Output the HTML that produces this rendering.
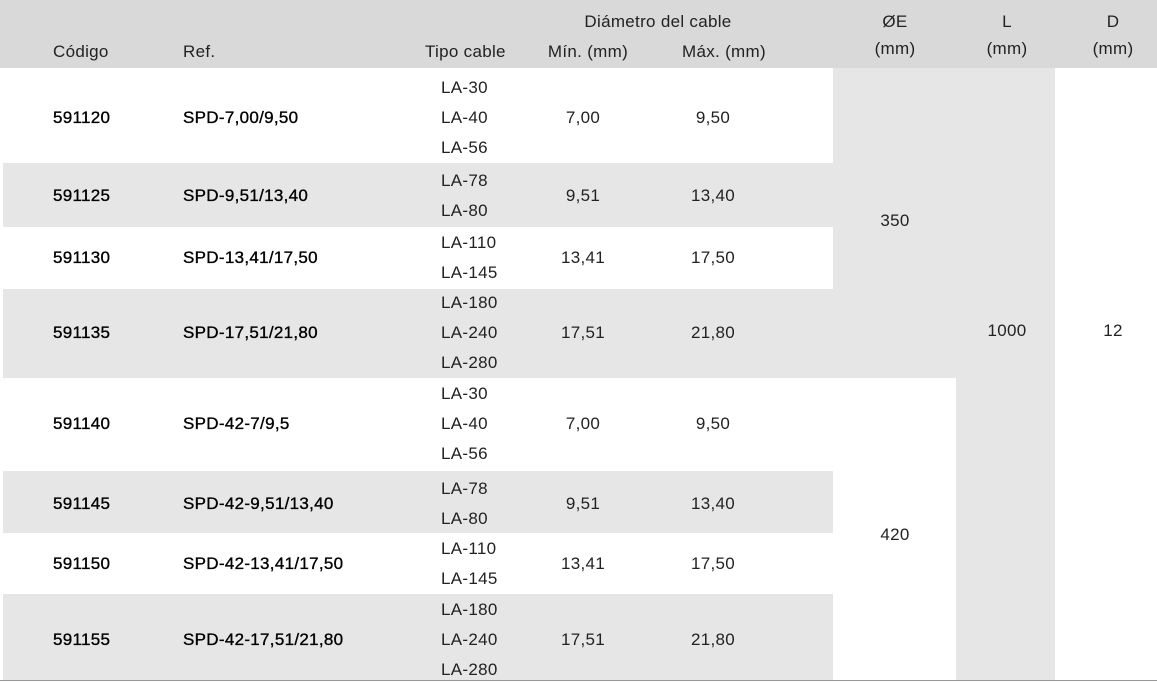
<!DOCTYPE html><html><head><style>
body{margin:0;width:1157px;height:683px;background:#fff;position:relative;font-family:"Liberation Sans",sans-serif;font-size:17px;letter-spacing:0.3px;color:#222;overflow:hidden}
div{position:absolute}
.t{transform:translate(-50%,-50%);white-space:nowrap}
.l{transform:translateY(-50%);white-space:nowrap}
.b{color:#000;-webkit-text-stroke:0.35px #000}
</style></head><body>
<div style="left:0;top:0;width:1157px;height:68px;background:#d9d9d9"></div>
<div style="left:3px;top:163px;width:830px;height:64px;background:#e6e6e6"></div>
<div style="left:3px;top:289px;width:830px;height:89px;background:#e6e6e6"></div>
<div style="left:3px;top:471px;width:830px;height:62px;background:#e6e6e6"></div>
<div style="left:3px;top:594px;width:830px;height:86px;background:#e6e6e6"></div>
<div style="left:833px;top:68px;width:123px;height:310px;background:#e6e6e6"></div>
<div style="left:956px;top:68px;width:99px;height:612px;background:#e6e6e6"></div>
<div style="left:0;top:680px;width:1157px;height:1px;background:#999"></div>
<div class="l" style="left:53px;top:52px">Código</div>
<div class="l" style="left:183px;top:52px">Ref.</div>
<div class="l" style="left:425px;top:52px">Tipo cable</div>
<div class="t" style="left:658px;top:22px">Diámetro del cable</div>
<div class="t" style="left:588px;top:52px">Mín. (mm)</div>
<div class="t" style="left:724px;top:52px">Máx. (mm)</div>
<div class="t" style="left:895px;top:22px">ØE</div><div class="t" style="left:895px;top:49px">(mm)</div>
<div class="t" style="left:1007px;top:22px">L</div><div class="t" style="left:1007px;top:49px">(mm)</div>
<div class="t" style="left:1113px;top:22px">D</div><div class="t" style="left:1113px;top:49px">(mm)</div>
<div class="t" style="left:895px;top:221px">350</div>
<div class="t" style="left:895px;top:535px">420</div>
<div class="t" style="left:1007px;top:331px">1000</div>
<div class="t" style="left:1113px;top:331px">12</div>
<div id="rows"></div>
<script>
var R=[[118,"591120","SPD-7,00/9,50",["LA-30","LA-40","LA-56"],"7,00","9,50"],
[196,"591125","SPD-9,51/13,40",["LA-78","LA-80"],"9,51","13,40"],
[258,"591130","SPD-13,41/17,50",["LA-110","LA-145"],"13,41","17,50"],
[333,"591135","SPD-17,51/21,80",["LA-180","LA-240","LA-280"],"17,51","21,80"],
[424,"591140","SPD-42-7/9,5",["LA-30","LA-40","LA-56"],"7,00","9,50"],
[504,"591145","SPD-42-9,51/13,40",["LA-78","LA-80"],"9,51","13,40"],
[564,"591150","SPD-42-13,41/17,50",["LA-110","LA-145"],"13,41","17,50"],
[640,"591155","SPD-42-17,51/21,80",["LA-180","LA-240","LA-280"],"17,51","21,80"]];
var h="";R.forEach(function(r){var y=r[0];
h+='<div class="l b" style="left:53px;top:'+y+'px">'+r[1]+'</div>';
h+='<div class="l b" style="left:183px;top:'+y+'px">'+r[2]+'</div>';
h+='<div class="t" style="left:583px;top:'+y+'px">'+r[4]+'</div>';
h+='<div class="t" style="left:713px;top:'+y+'px">'+r[5]+'</div>';
var n=r[3].length,s=y-(n-1)*15;
r[3].forEach(function(c,i){h+='<div class="l" style="left:441px;top:'+(s+i*30)+'px">'+c+'</div>';});});
document.getElementById("rows").outerHTML=h;
</script>
</body></html>
